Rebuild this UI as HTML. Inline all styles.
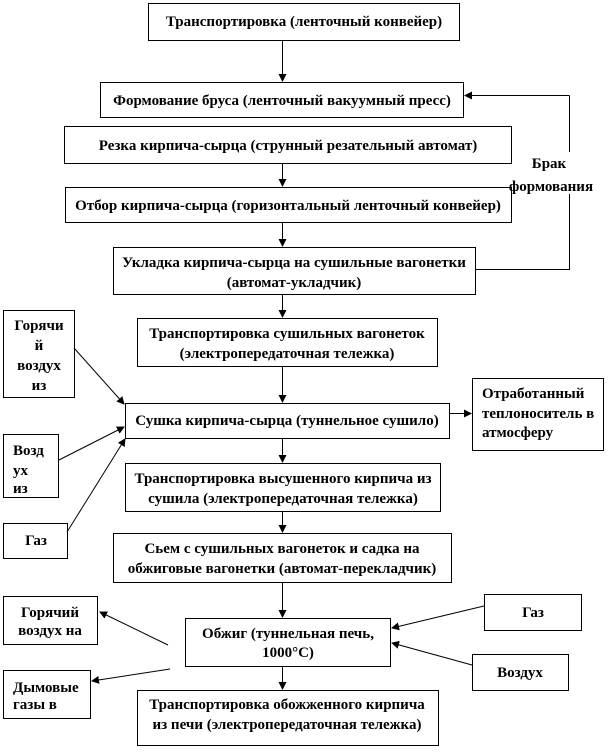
<!DOCTYPE html>
<html><head><meta charset="utf-8"><style>
html,body{margin:0;padding:0;background:#fff;}
svg{display:block;}
text{font-family:"Liberation Serif","DejaVu Serif",serif;font-weight:bold;font-size:15px;fill:#000;letter-spacing:0px;}
</style></head><body>
<svg width="608" height="753" viewBox="0 0 608 753" xmlns="http://www.w3.org/2000/svg">
<defs><marker id="a" markerWidth="8" markerHeight="8" refX="7" refY="4" orient="auto" markerUnits="userSpaceOnUse"><path d="M0,0 L8,4 L0,8 z" fill="#000"/></marker></defs>
<g fill="none" stroke="#000" stroke-width="1">
<rect x="148.5" y="3.5" width="311" height="37"/>
<rect x="100.5" y="82.5" width="363" height="35"/>
<rect x="64.5" y="126.5" width="447" height="37"/>
<rect x="65.5" y="187.5" width="446" height="35"/>
<rect x="113.5" y="247.5" width="362" height="47"/>
<rect x="137.5" y="318.5" width="300" height="48"/>
<rect x="125.5" y="403.5" width="324" height="35"/>
<rect x="125.5" y="463.5" width="315" height="48"/>
<rect x="113.5" y="533.5" width="338" height="49"/>
<rect x="185.5" y="618.5" width="205" height="48"/>
<rect x="137.5" y="690.5" width="301" height="55"/>
<rect x="3.5" y="310.5" width="71" height="87"/>
<rect x="3.5" y="434.5" width="55" height="63"/>
<rect x="3.5" y="523.5" width="64" height="35"/>
<rect x="472.5" y="378.5" width="131" height="72"/>
<rect x="3.5" y="596.5" width="94" height="48"/>
<rect x="3.5" y="670.5" width="87" height="48"/>
<rect x="484.5" y="594.5" width="97" height="36"/>
<rect x="472.5" y="654.5" width="96" height="36"/>
<polyline points="476,269.5 569.5,269.5 569.5,194"/>
<line x1="569.5" y1="152" x2="569.5" y2="95.5"/>
<g marker-end="url(#a)">
<line x1="282.5" y1="40" x2="282.5" y2="81"/>
<line x1="282.5" y1="164" x2="282.5" y2="186"/>
<line x1="282.5" y1="223" x2="282.5" y2="246"/>
<line x1="282.5" y1="295" x2="282.5" y2="317"/>
<line x1="282.5" y1="367" x2="282.5" y2="402"/>
<line x1="282.5" y1="439" x2="282.5" y2="462"/>
<line x1="282.5" y1="512" x2="282.5" y2="532"/>
<line x1="282.5" y1="583" x2="282.5" y2="617"/>
<line x1="282.5" y1="667" x2="282.5" y2="689"/>
<line x1="450" y1="413.5" x2="471" y2="413.5"/>
<line x1="569.5" y1="95.5" x2="465" y2="95.5"/>
<line x1="74" y1="348" x2="124" y2="404"/>
<line x1="59" y1="460" x2="124" y2="427"/>
<line x1="67" y1="532" x2="125" y2="439"/>
<line x1="168" y1="645" x2="100" y2="612"/>
<line x1="170" y1="669" x2="92" y2="681"/>
<line x1="484" y1="606" x2="392" y2="628"/>
<line x1="472" y1="665" x2="392" y2="643"/>
</g>
</g>
<g text-anchor="middle">
<text x="304" y="26">Транспортировка (ленточный конвейер)</text>
<text x="282" y="105">Формование бруса (ленточный вакуумный пресс)</text>
<text x="288" y="150">Резка кирпича-сырца (струнный резательный автомат)</text>
<text x="288" y="210">Отбор кирпича-сырца (горизонтальный ленточный конвейер)</text>
<text x="294" y="267">Укладка кирпича-сырца на сушильные вагонетки</text>
<text x="294" y="287">(автомат-укладчик)</text>
<text x="287" y="338">Транспортировка сушильных  вагонеток</text>
<text x="287" y="358">(электропередаточная тележка)</text>
<text x="287" y="425">Сушка  кирпича-сырца (туннельное сушило)</text>
<text x="283" y="483">Транспортировка высушенного  кирпича из</text>
<text x="283" y="503">сушила  (электропередаточная тележка)</text>
<text x="282" y="553">Сьем с сушильных  вагонеток и садка на</text>
<text x="282" y="573">обжиговые вагонетки (автомат-перекладчик)</text>
<text x="288" y="638">Обжиг (туннельная печь,</text>
<text x="288" y="657">1000°С)</text>
<text x="287" y="709">Транспортировка обожженного кирпича</text>
<text x="287" y="729">из печи (электропередаточная тележка)</text>
<text x="39" y="330">Горячи</text>
<text x="39" y="350">й</text>
<text x="39" y="370">воздух</text>
<text x="39" y="390">из</text>
<text x="36" y="545">Газ</text>
<text x="50" y="617">Горячий</text>
<text x="50" y="635">воздух на</text>
<text x="533" y="617">Газ</text>
<text x="520" y="677">Воздух</text>
<text x="549" y="168">Брак</text>
<text x="551" y="191">формования</text>
</g>
<text x="13" y="455">Возд</text>
<text x="13" y="475">ух</text>
<text x="13" y="493">из</text>
<text x="482" y="398">Отработанный</text>
<text x="482" y="418">теплоноситель в</text>
<text x="482" y="437">атмосферу</text>
<text x="13" y="692">Дымовые</text>
<text x="13" y="709">газы в</text>
</svg>
</body></html>
